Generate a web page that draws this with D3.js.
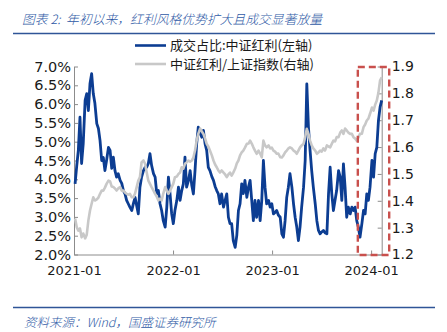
<!DOCTYPE html>
<html><head><meta charset="utf-8">
<script src="https://cdn.jsdelivr.net/npm/d3@7"></script>
<style>body{margin:0;background:#fff}svg{display:block}</style>
</head><body><svg id="c" width="447" height="332"></svg>
<script>
const dates = [
"2021-01-05","2021-01-11","2021-01-17","2021-01-23","2021-01-29","2021-02-04","2021-02-11","2021-02-17","2021-02-23","2021-03-01",
"2021-03-07","2021-03-13","2021-03-19","2021-03-26","2021-04-01","2021-04-07","2021-04-13","2021-04-19","2021-04-25","2021-05-01",
"2021-05-08","2021-05-14","2021-05-20","2021-05-26","2021-06-01","2021-06-07","2021-06-13","2021-06-20","2021-06-26","2021-07-02",
"2021-07-08","2021-07-14","2021-07-20","2021-07-26","2021-08-02","2021-08-08","2021-08-14","2021-08-20","2021-08-26","2021-09-01",
"2021-09-07","2021-09-14","2021-09-20","2021-09-26","2021-10-02","2021-10-08","2021-10-14","2021-10-21","2021-10-27","2021-11-02",
"2021-11-08","2021-11-14","2021-11-20","2021-11-26","2021-12-03","2021-12-09","2021-12-15","2021-12-21","2021-12-27",
"2022-01-02","2022-01-08","2022-01-15","2022-01-21","2022-01-27","2022-02-02","2022-02-08","2022-02-14","2022-02-20","2022-02-27",
"2022-03-05","2022-03-11","2022-03-17","2022-03-23","2022-03-29","2022-04-04","2022-04-11","2022-04-17","2022-04-23","2022-04-29",
"2022-05-05","2022-05-11","2022-05-17","2022-05-24","2022-05-30","2022-06-05","2022-06-11","2022-06-17","2022-06-23","2022-06-29",
"2022-07-06","2022-07-12","2022-07-18","2022-07-24","2022-07-30","2022-08-05","2022-08-11","2022-08-18","2022-08-24","2022-08-30",
"2022-09-05","2022-09-11","2022-09-17","2022-09-23","2022-09-30","2022-10-06","2022-10-12","2022-10-18","2022-10-24","2022-10-30",
"2022-11-05","2022-11-12","2022-11-18","2022-11-24","2022-11-30","2022-12-06","2022-12-12","2022-12-19","2022-12-25","2022-12-31",
"2023-01-06","2023-01-12","2023-01-18","2023-01-24","2023-01-31","2023-02-06","2023-02-12","2023-02-18","2023-02-24",
"2023-03-02","2023-03-08","2023-03-15","2023-03-21","2023-03-27","2023-04-02","2023-04-08","2023-04-14","2023-04-20","2023-04-27",
"2023-05-03","2023-05-09","2023-05-15","2023-05-21","2023-05-27","2023-06-02","2023-06-09","2023-06-15","2023-06-21","2023-06-27",
"2023-07-03","2023-07-09","2023-07-15","2023-07-22","2023-07-28","2023-08-03","2023-08-09","2023-08-15","2023-08-21","2023-08-27",
"2023-09-03","2023-09-09","2023-09-15","2023-09-21","2023-09-27","2023-10-03","2023-10-09","2023-10-16","2023-10-22","2023-10-28",
"2023-11-03","2023-11-09","2023-11-15","2023-11-21","2023-11-28","2023-12-04","2023-12-10","2023-12-16","2023-12-22","2023-12-28",
"2024-01-04","2024-01-10","2024-01-16","2024-01-22","2024-01-28","2024-02-03","2024-02-09"];

// 成交占比:中证红利 (%) — left axis
const shareValues = [
3.88,4.35,4.77,5.65,4.42,4.95,6.10,6.28,5.83,6.55,
6.81,6.28,6.02,5.48,5.35,5.03,4.50,4.58,4.23,4.50,
4.85,4.77,4.29,4.59,4.23,4.06,4.15,3.97,3.89,3.70,
3.61,3.44,3.35,3.26,3.17,3.36,3.52,3.30,3.08,3.79,
4.06,4.23,4.32,4.32,4.42,4.68,4.37,4.15,4.06,3.62,
3.70,3.35,3.17,2.90,2.73,3.26,4.06,3.61,3.08,
2.82,3.17,3.44,3.79,3.44,3.70,3.88,4.59,3.79,3.97,
4.23,3.84,3.61,4.23,4.94,5.39,5.22,5.12,5.30,4.95,
4.77,4.32,4.23,4.07,3.97,3.81,3.70,3.61,3.35,3.61,
3.26,3.44,3.61,2.99,2.82,2.82,2.37,2.19,2.51,3.17,
3.35,3.88,3.62,3.97,3.52,3.79,3.97,3.44,2.90,3.44,
2.99,3.44,2.90,3.44,4.50,3.79,3.35,3.44,3.26,3.35,
3.08,3.12,3.17,3.05,2.99,2.55,2.46,2.90,3.52,
3.79,4.15,3.79,3.35,2.99,2.73,2.37,2.73,3.26,3.79,
4.50,6.54,5.39,4.77,4.23,3.79,3.35,2.90,2.64,2.55,
2.60,2.64,2.58,2.55,3.61,4.32,3.62,3.17,3.44,3.70,
4.23,4.06,3.44,4.41,3.79,2.99,3.26,3.08,3.26,3.17,
3.26,2.90,2.73,2.46,2.82,3.17,3.08,3.61,3.44,3.79,
4.50,4.06,4.68,4.85,5.56,5.92,6.10];

// 中证红利/上证指数 — right axis
const ratioValues = [
1.334,1.302,1.289,1.297,1.264,1.278,1.260,1.274,1.327,1.364,
1.389,1.413,1.401,1.405,1.412,1.426,1.438,1.438,1.449,1.463,
1.475,1.472,1.453,1.451,1.446,1.438,1.446,1.451,1.438,1.438,
1.431,1.426,1.423,1.426,1.413,1.413,1.427,1.451,1.475,1.488,
1.543,1.550,1.538,1.505,1.475,1.463,1.451,1.438,1.426,1.416,
1.401,1.408,1.401,1.427,1.451,1.438,1.426,1.438,1.451,
1.464,1.488,1.490,1.500,1.505,1.525,1.520,1.538,1.543,1.550,
1.546,1.550,1.561,1.587,1.624,1.649,1.669,1.658,1.649,1.632,
1.612,1.602,1.587,1.569,1.550,1.535,1.525,1.513,1.505,1.513,
1.505,1.498,1.488,1.498,1.505,1.494,1.505,1.520,1.539,1.550,
1.569,1.580,1.587,1.598,1.612,1.613,1.624,1.613,1.599,1.587,
1.575,1.587,1.576,1.562,1.624,1.606,1.599,1.606,1.595,1.598,
1.587,1.583,1.575,1.576,1.562,1.561,1.569,1.580,1.587,
1.595,1.599,1.595,1.587,1.583,1.575,1.587,1.599,1.606,1.612,
1.637,1.668,1.649,1.624,1.606,1.595,1.587,1.575,1.580,1.587,
1.583,1.595,1.587,1.606,1.602,1.599,1.612,1.624,1.621,1.637,
1.637,1.654,1.662,1.649,1.669,1.662,1.654,1.649,1.649,1.637,
1.632,1.624,1.636,1.649,1.650,1.674,1.684,1.699,1.706,1.724,
1.747,1.736,1.758,1.773,1.803,1.848,1.860];

const leftTicks = [2.0,2.5,3.0,3.5,4.0,4.5,5.0,5.5,6.0,6.5,7.0];
const rightTicks = [1.2,1.3,1.4,1.5,1.6,1.7,1.8,1.9];
const xTickDates = ["2021-01-01","2022-01-01","2023-01-01","2024-01-01"];
const xTickLabels = ["2021-01","2022-01","2023-01","2024-01"];
const seriesNames = ["成交占比:中证红利(左轴)","中证红利/上证指数(右轴)"];
const titleText = "图表 2:\u00a0\u00a0年初以来，红利风格优势扩大且成交显著放量";
const sourceText = "资料来源：Wind，国盛证券研究所";
const highlightStart = "2023-11-13";

const parse = d3.timeParse("%Y-%m-%d");
const D = dates.map(parse);
const svg = d3.select("#c");
const FONT = "'DejaVu Sans', Verdana, sans-serif";
const CJK = "'Noto Sans CJK SC', sans-serif";

const x = d3.scaleTime().domain([parse("2021-01-01"), D[D.length-1]]).range([74, 381.7]);
const yL = d3.scaleLinear().domain([2,7]).range([254.5, 66.5]);
const yR = d3.scaleLinear().domain([1.2,1.9]).range([254.5, 66.5]);

// title and rules
svg.append("text").attr("x", 22).attr("y", 24).text(titleText)
  .attr("font-family", CJK).attr("font-size", 12.8).attr("font-style","italic").attr("font-weight",300)
  .attr("fill", "#2f5aa6");
svg.append("line").attr("x1",13).attr("x2",435).attr("y1",33.5).attr("y2",33.5)
  .attr("stroke","#2f5597").attr("stroke-width",1.6);
svg.append("line").attr("x1",13).attr("x2",435).attr("y1",307.5).attr("y2",307.5)
  .attr("stroke","#2f5597").attr("stroke-width",1.6);
svg.append("text").attr("x", 24).attr("y", 327).text(sourceText)
  .attr("font-family", CJK).attr("font-size", 12.5).attr("font-style","italic").attr("font-weight",300)
  .attr("fill", "#2f5aa6");

// axes
function styleAxis(g, fs){
  g.selectAll("path.domain").attr("stroke","#8c8c8c").attr("stroke-width",1);
  g.selectAll(".tick line").attr("stroke","#8c8c8c");
  g.selectAll("text").attr("fill","#1a1a1a").attr("font-family",FONT).attr("font-size",fs);
}
const gL = svg.append("g").attr("transform","translate(74,0)")
  .call(d3.axisLeft(yL).tickValues(leftTicks).tickSize(-4).tickSizeOuter(0).tickPadding(3)
    .tickFormat(d => d.toFixed(1)+"%"));
styleAxis(gL, 14.5);
const gR = svg.append("g").attr("transform","translate(381.7,0)")
  .call(d3.axisRight(yR).tickValues(rightTicks).tickSize(-4).tickSizeOuter(0).tickPadding(10)
    .tickFormat(d => d.toFixed(1)));
styleAxis(gR, 14);
const gB = svg.append("g").attr("transform","translate(0,254.5)")
  .call(d3.axisBottom(x).tickValues(xTickDates.map(parse)).tickSize(-4).tickSizeOuter(0).tickPadding(11)
    .tickFormat((d,i) => xTickLabels[i]));
styleAxis(gB, 13);

// series
const lineL = d3.line().x((d,i)=>x(D[i])).y(d=>yL(d)).curve(d3.curveLinear);
const lineR = d3.line().x((d,i)=>x(D[i])).y(d=>yR(d)).curve(d3.curveLinear);
svg.append("path").datum(shareValues).attr("d",lineL).attr("fill","none")
  .attr("stroke","#0c3d92").attr("stroke-width",2.8).attr("stroke-linejoin","round");
svg.append("path").datum(ratioValues).attr("d",lineR).attr("fill","none")
  .attr("stroke","#c8c8c8").attr("stroke-width",2.6).attr("stroke-linejoin","round");

// highlight box
const bx0 = x(parse(highlightStart)), bx1 = x.range()[1] + 7.5;
svg.append("rect").attr("x",bx0).attr("y",yL(7)+0.5).attr("width",bx1-bx0).attr("height",yL(2)-yL(7))
  .attr("fill","none").attr("stroke","#c9504d").attr("stroke-width",2.4).attr("stroke-dasharray","7,4");

// legend
const leg = [{c:"#0c3d92",y:45.5},{c:"#c8c8c8",y:64}];
leg.forEach((l,i)=>{
  svg.append("line").attr("x1",135).attr("x2",166).attr("y1",l.y).attr("y2",l.y)
    .attr("stroke",l.c).attr("stroke-width",2.6);
  svg.append("text").attr("x",170).attr("y",l.y+4.5).text(seriesNames[i])
    .attr("font-family",CJK).attr("font-size",13).attr("fill","#1a1a1a");
});
</script></body></html>
